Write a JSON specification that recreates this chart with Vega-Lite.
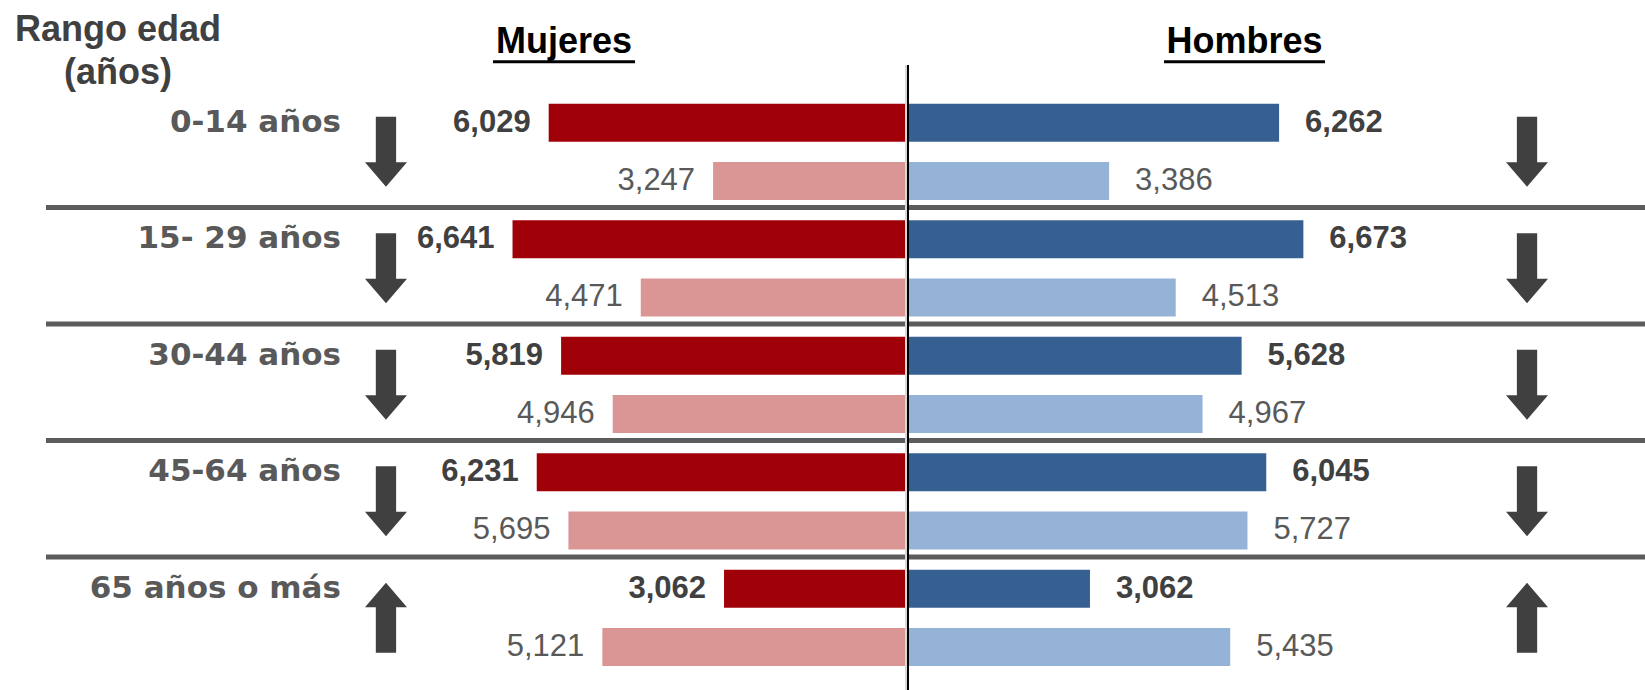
{
  "$schema": "https://vega.github.io/schema/vega-lite/v6.json",
  "width": 1599,
  "height": 625,
  "autosize": {"type": "none"},
  "padding": {"left": 46, "top": 65, "right": 0, "bottom": 0},
  "background": "white",
  "config": {"view": {"stroke": null}},
  "datasets": {
    "poblacion": [
      {"grupo": "0-14 años", "sexo": "Mujeres", "periodo": "inicial", "valor": 6029},
      {"grupo": "0-14 años", "sexo": "Mujeres", "periodo": "final", "valor": 3247},
      {"grupo": "0-14 años", "sexo": "Hombres", "periodo": "inicial", "valor": 6262},
      {"grupo": "0-14 años", "sexo": "Hombres", "periodo": "final", "valor": 3386},
      {"grupo": "15- 29 años", "sexo": "Mujeres", "periodo": "inicial", "valor": 6641},
      {"grupo": "15- 29 años", "sexo": "Mujeres", "periodo": "final", "valor": 4471},
      {"grupo": "15- 29 años", "sexo": "Hombres", "periodo": "inicial", "valor": 6673},
      {"grupo": "15- 29 años", "sexo": "Hombres", "periodo": "final", "valor": 4513},
      {"grupo": "30-44 años", "sexo": "Mujeres", "periodo": "inicial", "valor": 5819},
      {"grupo": "30-44 años", "sexo": "Mujeres", "periodo": "final", "valor": 4946},
      {"grupo": "30-44 años", "sexo": "Hombres", "periodo": "inicial", "valor": 5628},
      {"grupo": "30-44 años", "sexo": "Hombres", "periodo": "final", "valor": 4967},
      {"grupo": "45-64 años", "sexo": "Mujeres", "periodo": "inicial", "valor": 6231},
      {"grupo": "45-64 años", "sexo": "Mujeres", "periodo": "final", "valor": 5695},
      {"grupo": "45-64 años", "sexo": "Hombres", "periodo": "inicial", "valor": 6045},
      {"grupo": "45-64 años", "sexo": "Hombres", "periodo": "final", "valor": 5727},
      {"grupo": "65 años o más", "sexo": "Mujeres", "periodo": "inicial", "valor": 3062},
      {"grupo": "65 años o más", "sexo": "Mujeres", "periodo": "final", "valor": 5121},
      {"grupo": "65 años o más", "sexo": "Hombres", "periodo": "inicial", "valor": 3062},
      {"grupo": "65 años o más", "sexo": "Hombres", "periodo": "final", "valor": 5435}
    ],
    "grupos": [
      {"grupo": "0-14 años", "flecha_mujeres": "baja", "flecha_hombres": "baja"},
      {"grupo": "15- 29 años", "flecha_mujeres": "baja", "flecha_hombres": "baja"},
      {"grupo": "30-44 años", "flecha_mujeres": "baja", "flecha_hombres": "baja"},
      {"grupo": "45-64 años", "flecha_mujeres": "baja", "flecha_hombres": "baja"},
      {"grupo": "65 años o más", "flecha_mujeres": "sube", "flecha_hombres": "sube"}
    ],
    "encabezados": [
      {"sexo": "Mujeres"},
      {"sexo": "Hombres"}
    ],
    "titulo": [
      {"linea1": "Rango edad", "linea2": "(años)"}
    ]
  },
  "resolve": {"scale": {"x": "independent", "color": "independent"}},
  "layer": [
    {
      "data": {"name": "grupos"},
      "transform": [{"filter": "datum.grupo !== '65 años o más'"}],
      "mark": {"type": "rule", "stroke": "#5c5c5c", "strokeWidth": 5, "yOffset": -2.5},
      "encoding": {
        "y": {"field": "grupo", "type": "nominal", "bandPosition": 1, "axis": null,
              "scale": {"type": "band", "domain": ["0-14 años", "15- 29 años", "30-44 años", "45-64 años", "65 años o más"], "paddingInner": 0, "paddingOuter": 0.1824, "align": 0.672}}
      }
    },
    {
      "data": {"values": [{}]},
      "mark": {"type": "rule", "stroke": "#d9d9d9", "strokeWidth": 2, "xOffset": -1},
      "encoding": {
        "x": {"datum": 0, "type": "quantitative", "axis": null, "scale": {"domain": [-14568.5, 12487.3], "nice": false, "zero": false}}
      }
    },
    {
      "data": {"values": [{}]},
      "mark": {"type": "rule", "stroke": "#000000", "strokeWidth": 2, "xOffset": 1},
      "encoding": {
        "x": {"datum": 0, "type": "quantitative", "axis": null, "scale": {"domain": [-14568.5, 12487.3], "nice": false, "zero": false}}
      }
    },
    {
      "data": {"name": "poblacion"},
      "transform": [{"filter": "datum.sexo === 'Mujeres'"}],
      "mark": {"type": "bar", "xOffset": -2},
      "encoding": {
        "y": {"field": "grupo", "type": "nominal", "axis": null,
              "scale": {"type": "band", "domain": ["0-14 años", "15- 29 años", "30-44 años", "45-64 años", "65 años o más"], "paddingInner": 0, "paddingOuter": 0.1824, "align": 0.672}},
        "yOffset": {"field": "periodo", "type": "nominal", "scale": {"domain": ["inicial", "final"], "paddingInner": 0.347, "paddingOuter": 0.174}},
        "x": {"field": "valor", "type": "quantitative", "axis": null, "scale": {"domain": [-12487.3, 14568.5], "reverse": true, "nice": false, "zero": false}},
        "color": {"field": "periodo", "type": "nominal", "legend": null, "scale": {"domain": ["inicial", "final"], "range": ["#a00008", "#da9694"]}}
      }
    },
    {
      "data": {"name": "poblacion"},
      "transform": [{"filter": "datum.sexo === 'Hombres'"}],
      "mark": {"type": "bar", "xOffset": 2},
      "encoding": {
        "y": {"field": "grupo", "type": "nominal", "axis": null,
              "scale": {"type": "band", "domain": ["0-14 años", "15- 29 años", "30-44 años", "45-64 años", "65 años o más"], "paddingInner": 0, "paddingOuter": 0.1824, "align": 0.672}},
        "yOffset": {"field": "periodo", "type": "nominal", "scale": {"domain": ["inicial", "final"], "paddingInner": 0.347, "paddingOuter": 0.174}},
        "x": {"field": "valor", "type": "quantitative", "axis": null, "scale": {"domain": [-14568.5, 12487.3], "nice": false, "zero": false}},
        "color": {"field": "periodo", "type": "nominal", "legend": null, "scale": {"domain": ["inicial", "final"], "range": ["#366092", "#95b3d7"]}}
      }
    },
    {
      "data": {"name": "poblacion"},
      "transform": [{"filter": "datum.sexo === 'Mujeres' && datum.periodo === 'inicial'"}],
      "mark": {"type": "text", "align": "right", "baseline": "middle", "dx": -20, "font": "Liberation Sans", "fontWeight": "bold", "fontSize": 31, "color": "#404040"},
      "encoding": {
        "y": {"field": "grupo", "type": "nominal", "axis": null,
              "scale": {"type": "band", "domain": ["0-14 años", "15- 29 años", "30-44 años", "45-64 años", "65 años o más"], "paddingInner": 0, "paddingOuter": 0.1824, "align": 0.672}},
        "yOffset": {"field": "periodo", "type": "nominal", "scale": {"domain": ["inicial", "final"], "paddingInner": 0.347, "paddingOuter": 0.174}},
        "x": {"field": "valor", "type": "quantitative", "axis": null, "scale": {"domain": [-12487.3, 14568.5], "reverse": true, "nice": false, "zero": false}},
        "text": {"field": "valor", "type": "quantitative", "format": ",d"}
      }
    },
    {
      "data": {"name": "poblacion"},
      "transform": [{"filter": "datum.sexo === 'Mujeres' && datum.periodo === 'final'"}],
      "mark": {"type": "text", "align": "right", "baseline": "middle", "dx": -20, "font": "Liberation Sans", "fontWeight": "normal", "fontSize": 31, "color": "#595959"},
      "encoding": {
        "y": {"field": "grupo", "type": "nominal", "axis": null,
              "scale": {"type": "band", "domain": ["0-14 años", "15- 29 años", "30-44 años", "45-64 años", "65 años o más"], "paddingInner": 0, "paddingOuter": 0.1824, "align": 0.672}},
        "yOffset": {"field": "periodo", "type": "nominal", "scale": {"domain": ["inicial", "final"], "paddingInner": 0.347, "paddingOuter": 0.174}},
        "x": {"field": "valor", "type": "quantitative", "axis": null, "scale": {"domain": [-12487.3, 14568.5], "reverse": true, "nice": false, "zero": false}},
        "text": {"field": "valor", "type": "quantitative", "format": ",d"}
      }
    },
    {
      "data": {"name": "poblacion"},
      "transform": [{"filter": "datum.sexo === 'Hombres' && datum.periodo === 'inicial'"}],
      "mark": {"type": "text", "align": "left", "baseline": "middle", "dx": 28, "font": "Liberation Sans", "fontWeight": "bold", "fontSize": 31, "color": "#404040"},
      "encoding": {
        "y": {"field": "grupo", "type": "nominal", "axis": null,
              "scale": {"type": "band", "domain": ["0-14 años", "15- 29 años", "30-44 años", "45-64 años", "65 años o más"], "paddingInner": 0, "paddingOuter": 0.1824, "align": 0.672}},
        "yOffset": {"field": "periodo", "type": "nominal", "scale": {"domain": ["inicial", "final"], "paddingInner": 0.347, "paddingOuter": 0.174}},
        "x": {"field": "valor", "type": "quantitative", "axis": null, "scale": {"domain": [-14568.5, 12487.3], "nice": false, "zero": false}},
        "text": {"field": "valor", "type": "quantitative", "format": ",d"}
      }
    },
    {
      "data": {"name": "poblacion"},
      "transform": [{"filter": "datum.sexo === 'Hombres' && datum.periodo === 'final'"}],
      "mark": {"type": "text", "align": "left", "baseline": "middle", "dx": 28, "font": "Liberation Sans", "fontWeight": "normal", "fontSize": 31, "color": "#595959"},
      "encoding": {
        "y": {"field": "grupo", "type": "nominal", "axis": null,
              "scale": {"type": "band", "domain": ["0-14 años", "15- 29 años", "30-44 años", "45-64 años", "65 años o más"], "paddingInner": 0, "paddingOuter": 0.1824, "align": 0.672}},
        "yOffset": {"field": "periodo", "type": "nominal", "scale": {"domain": ["inicial", "final"], "paddingInner": 0.347, "paddingOuter": 0.174}},
        "x": {"field": "valor", "type": "quantitative", "axis": null, "scale": {"domain": [-14568.5, 12487.3], "nice": false, "zero": false}},
        "text": {"field": "valor", "type": "quantitative", "format": ",d"}
      }
    },
    {
      "data": {"name": "grupos"},
      "mark": {"type": "text", "align": "right", "baseline": "middle", "dy": -29, "font": "DejaVu Sans", "fontWeight": "bold", "fontSize": 31, "color": "#595959"},
      "encoding": {
        "y": {"field": "grupo", "type": "nominal", "axis": null,
              "scale": {"type": "band", "domain": ["0-14 años", "15- 29 años", "30-44 años", "45-64 años", "65 años o más"], "paddingInner": 0, "paddingOuter": 0.1824, "align": 0.672}},
        "x": {"datum": -9577, "type": "quantitative", "axis": null, "scale": {"domain": [-14568.5, 12487.3], "nice": false, "zero": false}},
        "text": {"field": "grupo", "type": "nominal"}
      }
    },
    {
      "data": {"name": "titulo"},
      "mark": {"type": "text", "align": "center", "baseline": "alphabetic", "dy": -111, "lineHeight": 43, "font": "Liberation Sans", "fontWeight": "bold", "fontSize": 36, "color": "#404040"},
      "encoding": {
        "y": {"datum": "0-14 años", "type": "nominal", "axis": null,
              "scale": {"type": "band", "domain": ["0-14 años", "15- 29 años", "30-44 años", "45-64 años", "65 años o más"], "paddingInner": 0, "paddingOuter": 0.1824, "align": 0.672}},
        "x": {"datum": -13350, "type": "quantitative", "axis": null, "scale": {"domain": [-14568.5, 12487.3], "nice": false, "zero": false}},
        "text": {"field": "linea1", "type": "nominal"}
      }
    },
    {
      "data": {"name": "titulo"},
      "mark": {"type": "text", "align": "center", "baseline": "alphabetic", "dy": -68, "font": "Liberation Sans", "fontWeight": "bold", "fontSize": 36, "color": "#404040"},
      "encoding": {
        "y": {"datum": "0-14 años", "type": "nominal", "axis": null,
              "scale": {"type": "band", "domain": ["0-14 años", "15- 29 años", "30-44 años", "45-64 años", "65 años o más"], "paddingInner": 0, "paddingOuter": 0.1824, "align": 0.672}},
        "x": {"datum": -13350, "type": "quantitative", "axis": null, "scale": {"domain": [-14568.5, 12487.3], "nice": false, "zero": false}},
        "text": {"field": "linea2", "type": "nominal"}
      }
    },
    {
      "data": {"name": "grupos"},
      "mark": {"type": "point", "filled": true, "size": 4900, "color": "#404040", "opacity": 1, "strokeWidth": 0},
      "encoding": {
        "y": {"field": "grupo", "type": "nominal", "axis": null,
              "scale": {"type": "band", "domain": ["0-14 años", "15- 29 años", "30-44 años", "45-64 años", "65 años o más"], "paddingInner": 0, "paddingOuter": 0.1824, "align": 0.672}},
        "x": {"datum": -8816, "type": "quantitative", "axis": null, "scale": {"domain": [-14568.5, 12487.3], "nice": false, "zero": false}},
        "shape": {"field": "flecha_mujeres", "type": "nominal", "legend": null,
                  "scale": {"domain": ["baja", "sube"], "range": ["M -0.29 -1 L 0.29 -1 L 0.29 0.3 L 0.6 0.3 L 0 1 L -0.6 0.3 L -0.29 0.3 Z", "M -0.29 1 L 0.29 1 L 0.29 -0.3 L 0.6 -0.3 L 0 -1 L -0.6 -0.3 L -0.29 -0.3 Z"]}}
      }
    },
    {
      "data": {"name": "grupos"},
      "mark": {"type": "point", "filled": true, "size": 4900, "color": "#404040", "opacity": 1, "strokeWidth": 0},
      "encoding": {
        "y": {"field": "grupo", "type": "nominal", "axis": null,
              "scale": {"type": "band", "domain": ["0-14 años", "15- 29 años", "30-44 años", "45-64 años", "65 años o más"], "paddingInner": 0, "paddingOuter": 0.1824, "align": 0.672}},
        "x": {"datum": 10491, "type": "quantitative", "axis": null, "scale": {"domain": [-14568.5, 12487.3], "nice": false, "zero": false}},
        "shape": {"field": "flecha_hombres", "type": "nominal", "legend": null,
                  "scale": {"domain": ["baja", "sube"], "range": ["M -0.29 -1 L 0.29 -1 L 0.29 0.3 L 0.6 0.3 L 0 1 L -0.6 0.3 L -0.29 0.3 Z", "M -0.29 1 L 0.29 1 L 0.29 -0.3 L 0.6 -0.3 L 0 -1 L -0.6 -0.3 L -0.29 -0.3 Z"]}}
      }
    },
    {
      "data": {"name": "encabezados"},
      "transform": [{"filter": "datum.sexo === 'Mujeres'"}],
      "mark": {"type": "text", "align": "center", "baseline": "alphabetic", "dy": -99, "font": "Liberation Sans", "fontWeight": "bold", "fontSize": 36, "color": "#000000"},
      "encoding": {
        "y": {"datum": "0-14 años", "type": "nominal", "axis": null,
              "scale": {"type": "band", "domain": ["0-14 años", "15- 29 años", "30-44 años", "45-64 años", "65 años o más"], "paddingInner": 0, "paddingOuter": 0.1824, "align": 0.672}},
        "x": {"datum": -5804, "type": "quantitative", "axis": null, "scale": {"domain": [-14568.5, 12487.3], "nice": false, "zero": false}},
        "text": {"field": "sexo", "type": "nominal"}
      }
    },
    {
      "data": {"name": "encabezados"},
      "transform": [{"filter": "datum.sexo === 'Hombres'"}],
      "mark": {"type": "text", "align": "center", "baseline": "alphabetic", "dy": -99, "font": "Liberation Sans", "fontWeight": "bold", "fontSize": 36, "color": "#000000"},
      "encoding": {
        "y": {"datum": "0-14 años", "type": "nominal", "axis": null,
              "scale": {"type": "band", "domain": ["0-14 años", "15- 29 años", "30-44 años", "45-64 años", "65 años o más"], "paddingInner": 0, "paddingOuter": 0.1824, "align": 0.672}},
        "x": {"datum": 5711, "type": "quantitative", "axis": null, "scale": {"domain": [-14568.5, 12487.3], "nice": false, "zero": false}},
        "text": {"field": "sexo", "type": "nominal"}
      }
    },
    {
      "data": {"name": "encabezados"},
      "transform": [{"filter": "datum.sexo === 'Mujeres'"}],
      "mark": {"type": "rule", "stroke": "#000000", "strokeWidth": 3, "yOffset": -90},
      "encoding": {
        "y": {"datum": "0-14 años", "type": "nominal", "axis": null,
              "scale": {"type": "band", "domain": ["0-14 años", "15- 29 años", "30-44 años", "45-64 años", "65 años o más"], "paddingInner": 0, "paddingOuter": 0.1824, "align": 0.672}},
        "x": {"datum": -7005, "type": "quantitative", "axis": null, "scale": {"domain": [-14568.5, 12487.3], "nice": false, "zero": false}},
        "x2": {"datum": -4602}
      }
    },
    {
      "data": {"name": "encabezados"},
      "transform": [{"filter": "datum.sexo === 'Hombres'"}],
      "mark": {"type": "rule", "stroke": "#000000", "strokeWidth": 3, "yOffset": -90},
      "encoding": {
        "y": {"datum": "0-14 años", "type": "nominal", "axis": null,
              "scale": {"type": "band", "domain": ["0-14 años", "15- 29 años", "30-44 años", "45-64 años", "65 años o más"], "paddingInner": 0, "paddingOuter": 0.1824, "align": 0.672}},
        "x": {"datum": 4349, "type": "quantitative", "axis": null, "scale": {"domain": [-14568.5, 12487.3], "nice": false, "zero": false}},
        "x2": {"datum": 7073}
      }
    }
  ]
}
